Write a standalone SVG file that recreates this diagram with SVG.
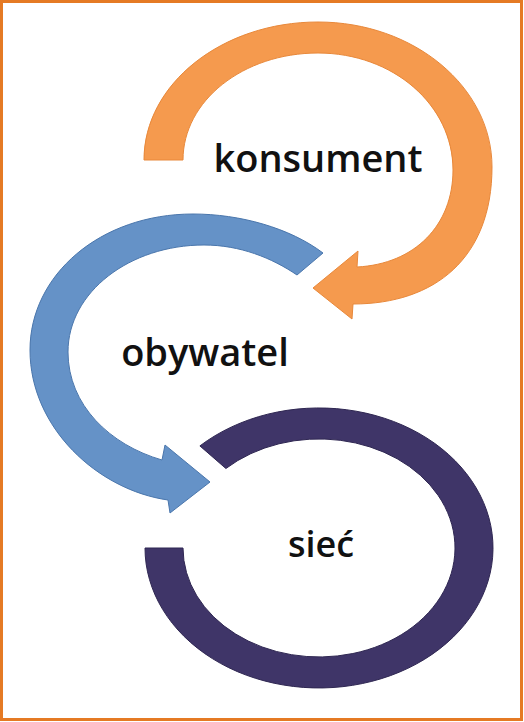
<svg xmlns="http://www.w3.org/2000/svg" width="524" height="722" viewBox="0 0 524 722">
<style>
.lbl{font-family:"Open Sans","Liberation Sans",sans-serif;font-weight:600;fill:#111;text-anchor:middle}
.orange{fill:#F59A4E;stroke:#E8883A;stroke-width:1}
.blue{fill:#6592C7;stroke:#4A76AC;stroke-width:1}
.purple{fill:#3F3568;stroke:#2F2752;stroke-width:1}
</style>
<rect x="0" y="0" width="524" height="722" fill="#fff"/>
<rect x="1.5" y="1.5" width="520" height="718" fill="none" stroke="#E57A24" stroke-width="3"/>
<g id="connectors">
<path id="arrow-konsument" class="orange" d="M144,160 C144,84 222,22 318,22 C414,22 492,87 492,167 C492,258 435,304 353,304 L352,319 L313,288 L358,251 L357,267 C415,264 453,225 453,170 C453,105 393,53 318,53 C243,53 183,101 183,160 Z"/>
<path id="arrow-obywatel" class="blue" d="M323,253 C290,228 240,214 193,214 C100,214 30,275 30,350 C30,428 98,490 168,500 L170,513 L210,482 L165,445 L162,460 C110,445 68,405 68,352 C68,292 130,245 204,245 C240,245 272,258 297,275 Z"/>
<path id="arrow-siec" class="purple" d="M145,548 A174,140 0 1 0 199.9,445.9 L225.9,468.5 A136,109 0 1 1 183,548 Z"/>
</g>
<g id="node-konsument"><text class="lbl" x="318" y="172" font-size="38">konsument</text></g>
<g id="node-obywatel"><text class="lbl" x="205" y="366" font-size="38">obywatel</text></g>
<g id="node-siec"><text class="lbl" x="321" y="557" font-size="36">sieć</text></g>
</svg>
